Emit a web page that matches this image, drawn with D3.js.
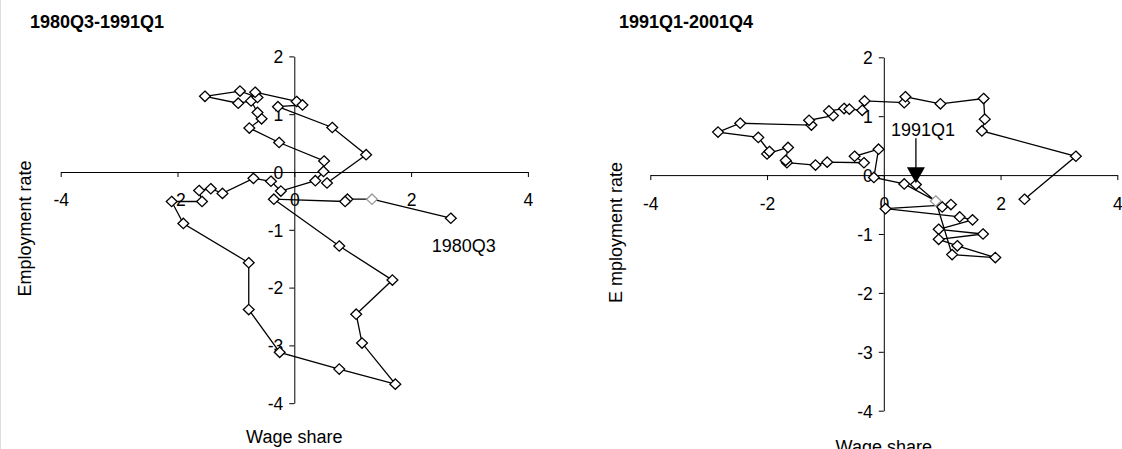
<!DOCTYPE html>
<html><head><meta charset="utf-8">
<script src="https://cdn.jsdelivr.net/npm/d3@7"></script>
<style>
html,body{margin:0;padding:0;background:#fff;}
svg{display:block;font-family:"Liberation Sans",Arial,sans-serif;}
</style></head>
<body>
<svg id="c" width="1122" height="449"></svg>
<script>
// ---- data ----
const leftTitle = "1980Q3-1991Q1";
const rightTitle = "1991Q1-2001Q4";
const xTicks = [-4,-2,0,2,4];
const yTicks = [2,1,0,-1,-2,-3,-4];
const leftX = [2.68,1.33,0.91,0.87,-0.35,0.77,1.68,1.06,1.16,1.73,0.77,-0.25,-0.78,-0.78,-1.90,-2.10,-1.58,-1.63,-1.43,-1.23,-0.70,-0.40,-0.23,0.36,0.50,0.51,-0.26,-0.77,-0.56,-0.63,-0.74,-0.96,-1.53,-0.93,-0.63,-0.67,0.04,0.14,-0.28,0.65,1.23,0.56];
const leftY = [-0.80,-0.47,-0.47,-0.51,-0.47,-1.28,-1.87,-2.46,-2.96,-3.67,-3.41,-3.12,-2.38,-1.57,-0.89,-0.51,-0.51,-0.32,-0.29,-0.37,-0.11,-0.16,-0.33,-0.15,0.01,0.19,0.51,0.76,0.92,1.03,1.23,1.19,1.31,1.40,1.29,1.38,1.22,1.16,1.13,0.77,0.30,-0.19];
const leftLight = [1];
const rightX = [0.55,1.00,1.15,0.03,1.30,1.52,0.94,1.70,0.94,1.26,1.91,1.17,0.89,0.35,-0.17,-0.09,-0.50,-0.34,-0.97,-1.17,-1.66,-1.68,-1.64,-2.00,-1.96,-2.15,-2.84,-2.46,-1.24,-1.28,-0.87,-0.94,-0.68,-0.59,-0.37,-0.33,0.35,0.37,0.97,1.71,1.73,1.68,3.29,2.41];
const rightY = [-0.16,-0.54,-0.50,-0.57,-0.71,-0.76,-0.92,-1.00,-1.09,-1.20,-1.40,-1.35,-0.44,-0.15,-0.04,0.44,0.32,0.21,0.22,0.17,0.21,0.25,0.47,0.36,0.40,0.64,0.73,0.88,0.85,0.93,1.01,1.09,1.13,1.12,1.10,1.26,1.23,1.33,1.21,1.30,0.95,0.75,0.32,-0.41];
const rightLight = [12];
const leftNote = {label:"1980Q3", x:2.90, y:-1.38};
const rightNote = {label:"1991Q1", x:0.55, y:0.66, tipY:-0.14};

const svg = d3.select("#c");
svg.append("line").attr("x1",0.5).attr("x2",0.5).attr("y1",0).attr("y2",449).attr("stroke","#ddd");

function panel(cfg){
  const g = svg.append("g");
  const x = d3.scaleLinear().domain([-4,4]).range(cfg.xr);
  const y = d3.scaleLinear().domain([-4,2]).range(cfg.yr);
  g.append("text").attr("x",cfg.titleX).attr("y",28).attr("font-size",18).attr("font-weight","bold").text(cfg.title);
  const fmt = d => String(d);
  const xa = g.append("g").attr("transform",`translate(0,${y(0)})`)
    .call(d3.axisBottom(x).tickValues(xTicks).tickSize(5).tickSizeOuter(0).tickPadding(17).tickFormat(fmt));
  const ya = g.append("g").attr("transform",`translate(${x(0)},0)`)
    .call(d3.axisLeft(y).tickValues(yTicks).tickSize(5).tickSizeOuter(0).tickPadding(6).tickFormat(fmt));
  [xa,ya].forEach(a=>{
    a.attr("font-family",null).attr("font-size",null);
    a.selectAll("text").attr("font-size",17.5).attr("fill","#000");
    a.selectAll("line").attr("stroke","#000");
    a.select(".domain").attr("stroke","#000");
  });
  ya.selectAll("text").attr("dy","0.36em");
  g.append("text").attr("transform",`translate(${cfg.ylabX},${cfg.ylabY}) rotate(-90)`)
    .attr("text-anchor","middle").attr("dy","0.36em").attr("font-size",18).text(cfg.ylab);
  g.append("text").attr("x",x(0)).attr("y",cfg.xlabY).attr("text-anchor","middle").attr("font-size",18).text("Wage share");
  const pts = cfg.xs.map((v,i)=>[v,cfg.ys[i]]);
  g.append("path").attr("d",d3.line().x(d=>x(d[0])).y(d=>y(d[1]))(pts))
    .attr("fill","none").attr("stroke","#000").attr("stroke-width",1.3);
  const dm = "M0,-5.2L5.4,0L0,5.2L-5.4,0Z";
  g.selectAll("path.m").data(pts).enter().append("path").attr("class","m")
    .attr("d",dm).attr("transform",d=>`translate(${x(d[0])},${y(d[1])})`)
    .attr("fill","#fff").attr("stroke",(d,i)=>cfg.light.includes(i)?"#999":"#000").attr("stroke-width",1.3);
  return {g,x,y};
}

const L = panel({xr:[60.7,527.9], yr:[403.2,56.4], titleX:30, title:leftTitle,
  xs:leftX, ys:leftY, light:leftLight, ylab:"Employment rate", ylabX:25, ylabY:228.5, xlabY:443});
L.g.append("text").attr("x",L.x(leftNote.x)).attr("y",L.y(leftNote.y)).attr("text-anchor","middle")
  .attr("font-size",18).text(leftNote.label);

const R = panel({xr:[650.3,1117.3], yr:[410.7,57.3], titleX:619, title:rightTitle,
  xs:rightX, ys:rightY, light:rightLight, ylab:"E mployment rate", ylabX:615.5, ylabY:232.5, xlabY:453});
const ax = R.x(rightNote.x), ty = R.y(rightNote.tipY);
R.g.append("text").attr("x",ax+7).attr("y",R.y(rightNote.y)).attr("text-anchor","middle")
  .attr("font-size",18).text(rightNote.label);
R.g.append("line").attr("x1",ax).attr("x2",ax).attr("y1",R.y(rightNote.y)+2).attr("y2",ty-14)
  .attr("stroke","#000").attr("stroke-width",1.3);
R.g.append("path").attr("d",`M${ax-9},${ty-16}L${ax+9},${ty-16}L${ax},${ty}Z`).attr("fill","#000");
</script>
</body></html>
